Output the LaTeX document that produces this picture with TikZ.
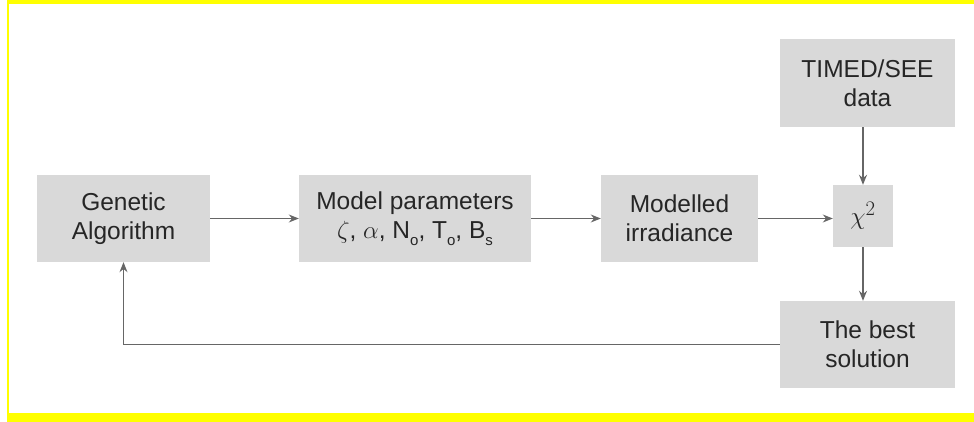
\documentclass[tikz,border=0pt]{standalone}
\usepackage{fontspec}
\setmainfont{Liberation Sans}
\usetikzlibrary{arrows.meta}
\definecolor{boxgray}{HTML}{D9D9D9}
\definecolor{linegray}{HTML}{666666}
\definecolor{frameyellow}{HTML}{FFFF00}
\newcommand{\lowsub}[1]{\raisebox{-0.55ex}{\fontsize{15}{15}\selectfont #1}}
\tikzset{
  blk/.style={fill=boxgray, inner sep=0pt, align=center, text=black!85,
    font=\fontsize{24.5}{29}\selectfont},
  arr/.style={draw=linegray, line width=1.2pt, -{Stealth[length=10pt,width=8pt]}}
}
\begin{document}
\begin{tikzpicture}[x=1pt,y=-1pt]
\useasboundingbox (0,0) rectangle (974,422);
% frame
\fill[frameyellow] (7,0) rectangle (974,4);
\fill[frameyellow] (7,413) rectangle (974,422);
\fill[frameyellow] (7,0) rectangle (9,422);
% blocks
\node[blk, minimum width=173pt, minimum height=87pt] (g) at (123.5,218.5) {Genetic\\Algorithm};
\node[blk, minimum width=232pt, minimum height=87pt] (m) at (415,218.5)
  {Model parameters\\$\zeta$, $\alpha$, N\lowsub{o}, T\lowsub{o}, B\lowsub{s}};
\node[blk, minimum width=157pt, minimum height=87pt] (i) at (679.5,218.5) {Modelled\\irradiance};
\node[blk, minimum width=60pt, minimum height=62pt, font=\fontsize{29}{29}\selectfont] (c) at (863,216) {$\chi^2$};
\node[blk, minimum width=175pt, minimum height=88pt] (t) at (867.5,83) {TIMED/SEE\\data};
\node[blk, minimum width=175pt, minimum height=87pt] (b) at (867.5,344.5) {The best\\solution};
% connectors
\draw[arr] (g) -- (m);
\draw[arr] (m) -- (i);
\draw[arr] (i.east) -- (i.east -| c.west);
\draw[arr] (t.south -| c) -- (c.north);
\draw[arr] (c.south) -- (c.south |- b.north);
\draw[arr] (b.west) -| (g.south);
\end{tikzpicture}
\end{document}
